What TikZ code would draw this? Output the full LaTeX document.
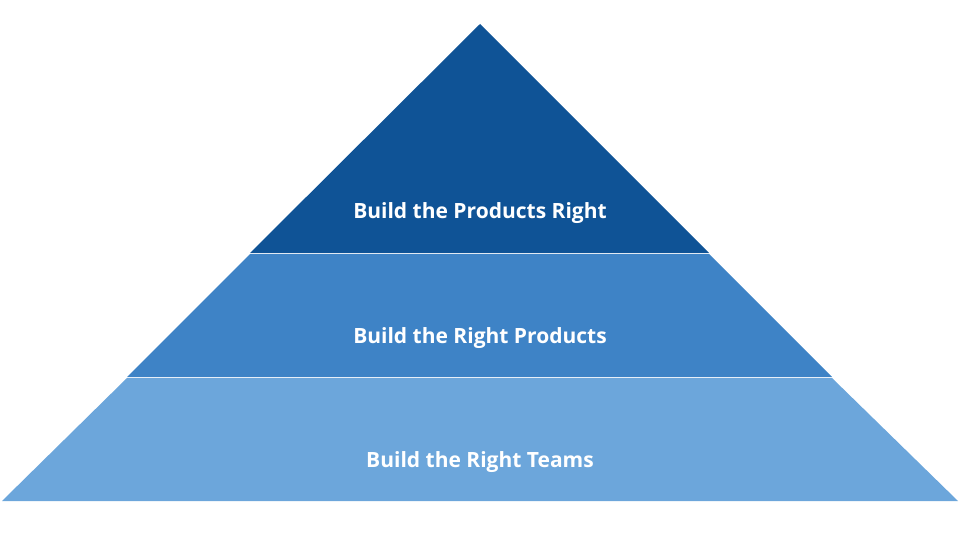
\documentclass[tikz,border=0pt]{standalone}
\usepackage{fontspec}
\setmainfont{Open Sans}
\definecolor{tA}{HTML}{0F5396}
\definecolor{tB}{HTML}{3E83C6}
\definecolor{tC}{HTML}{6CA6DB}
\begin{document}
\begin{tikzpicture}[x=1pt,y=-1pt,
  lbl/.style={text=white,font=\bfseries\fontsize{21}{25}\selectfont}]
\useasboundingbox (0,0) rectangle (960,540);
\fill[tA] (480,24) -- (709,253) -- (250,253) -- cycle;
\fill[tB] (250,254) -- (709,254) -- (832,377) -- (127,377) -- cycle;
\fill[tC] (127,378) -- (832,378) -- (958,501) -- (2,501) -- cycle;
\node[lbl] (t1) at (480,213) {Build the Products Right};
\node[lbl] (t2) at (480,338) {Build the Right Products};
\node[lbl] (t3) at (480,462) {Build the Right Teams};
\end{tikzpicture}
\end{document}
